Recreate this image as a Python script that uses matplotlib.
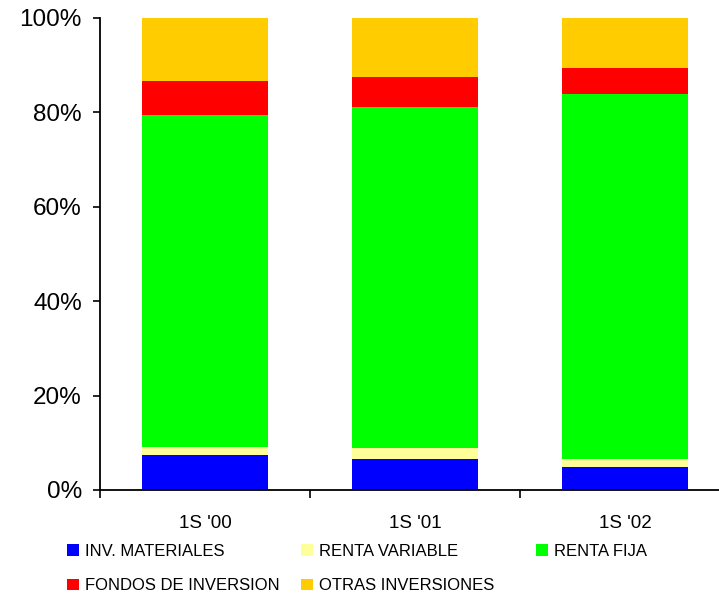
import matplotlib
matplotlib.use("Agg")
import matplotlib.pyplot as plt
import numpy as np
from matplotlib.ticker import FuncFormatter

plt.rcParams['font.family'] = ['Liberation Sans', 'DejaVu Sans']

# periods and share of each investment type (%)
periods = ["1S '00", "1S '01", "1S '02"]
series_names = ["INV. MATERIALES", "RENTA VARIABLE", "RENTA FIJA",
                "FONDOS DE INVERSION", "OTRAS INVERSIONES"]
inv_materiales = [7.5, 6.6, 4.9]
renta_variable = [1.7, 2.2, 1.7]
renta_fija = [70.2, 72.3, 77.4]
fondos_inversion = [7.2, 6.3, 5.5]
otras_inversiones = [13.4, 12.6, 10.5]

colors = ['#0000FF', '#FFFF99', '#00FF00', '#FF0000', '#FFCC00']
all_series = [inv_materiales, renta_variable, renta_fija, fondos_inversion, otras_inversiones]

fig = plt.figure(figsize=(7.19, 5.94), dpi=100)
ax = fig.add_axes([100 / 719, 1 - 490 / 594, 630 / 719, 472 / 594])

x = np.arange(len(periods))
bottom = np.zeros(len(periods))
handles = []
for vals, name, c in zip(all_series, series_names, colors):
    b = ax.bar(x, vals, width=0.6, bottom=bottom, color=c, label=name, linewidth=0)
    handles.append(b)
    bottom += np.array(vals)

ax.set_xlim(-0.5, 2.5)
ax.set_ylim(0, 100)
ax.set_yticks(np.arange(0, 101, 20))
ax.yaxis.set_major_formatter(FuncFormatter(lambda v, p: '%d%%' % v))
ax.tick_params(axis='y', labelsize=17.5, direction='out', length=5, width=1.2, pad=8)

# category boundaries get the tick marks, labels sit in the middle
ax.set_xticks([-0.5, 0.5, 1.5])
ax.set_xticklabels([])
ax.set_xticks(x, minor=True)
ax.set_xticklabels(periods, minor=True)
ax.tick_params(axis='x', which='major', direction='out', length=6, width=1.2)
ax.tick_params(axis='x', which='minor', length=0, labelsize=13.5, pad=18)

for s in ['top', 'right']:
    ax.spines[s].set_visible(False)
ax.spines['left'].set_linewidth(1.3)
ax.spines['bottom'].set_linewidth(1.3)

# legend laid out as three separate columns
cols = [([0, 3], 67), ([1, 4], 301), ([2], 536)]
for idx, xpos in cols:
    leg = fig.legend([handles[i] for i in idx], [series_names[i] for i in idx],
                     loc='upper left', bbox_to_anchor=(xpos / 719, 1 - 544 / 594),
                     frameon=False, fontsize=12, handlelength=0.7, handleheight=0.7,
                     handletextpad=0.4, labelspacing=1.15, borderaxespad=0,
                     borderpad=0)

fig.savefig('out.png', dpi=100)
